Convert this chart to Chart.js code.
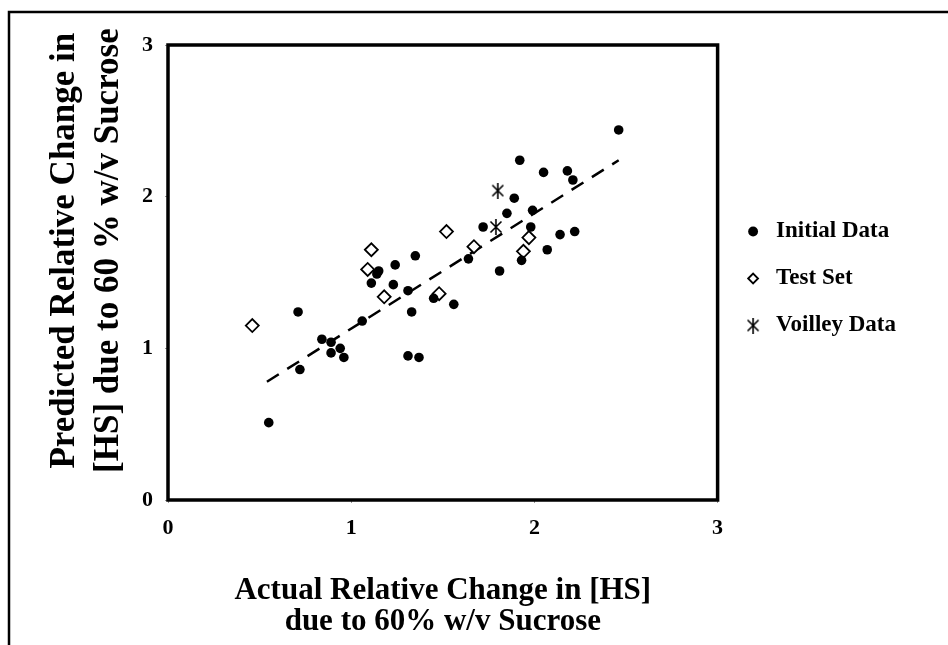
<!DOCTYPE html>
<html>
<head>
<meta charset="utf-8">
<script src="https://cdn.jsdelivr.net/npm/chart.js@4"></script>
<style>
  html, body { margin: 0; padding: 0; background: #fff; }
  #wrap { width: 948px; height: 645px; }
</style>
</head>
<body>
<div id="wrap"><canvas id="hsChart"></canvas></div>
<script>
// values
const initialX = [2.46, 1.92, 2.05, 2.18, 2.21, 1.89, 1.85, 1.99, 1.98, 1.72, 2.14, 2.22, 2.07, 1.93, 1.81, 1.64, 1.35, 1.24, 1.15, 1.14, 1.11, 1.23, 1.31, 1.45, 1.56, 1.33, 0.71, 1.06, 0.84, 0.89, 0.89, 0.94, 0.96, 1.31, 1.37, 0.72, 0.55];
const initialY = [2.44, 2.24, 2.16, 2.17, 2.11, 1.99, 1.89, 1.91, 1.80, 1.80, 1.75, 1.77, 1.65, 1.58, 1.51, 1.59, 1.61, 1.55, 1.51, 1.49, 1.43, 1.42, 1.38, 1.33, 1.29, 1.24, 1.24, 1.18, 1.06, 1.04, 0.97, 1.00, 0.94, 0.95, 0.94, 0.86, 0.51];
const testX = [0.46, 1.11, 1.09, 1.52, 1.18, 1.48, 1.67, 1.94, 1.97];
const testY = [1.15, 1.65, 1.52, 1.77, 1.34, 1.36, 1.67, 1.64, 1.73];
const voilleyX = [1.80, 1.79];
const voilleyY = [2.04, 1.80];
const trendX = [0.54, 2.46];
const trendY = [0.78, 2.24];
const tickValues = [0, 1, 2, 3];

const seriesNames = ['Initial Data', 'Test Set', 'Voilley Data'];
const xTitle = ['Actual Relative Change in [HS]', 'due to 60% w/v Sucrose'];
// leading spaces nudge the rotated title up a little, like the original
const yTitle = ['     Predicted Relative Change in', '     [HS] due to 60 % w/v Sucrose'];

const SERIF = '"Liberation Serif", "Times New Roman", serif';

function toPoints(xs, ys) {
    return xs.map(function (x, i) { return { x: x, y: ys[i] }; });
}

// Excel-like star marker: an X with a vertical stroke
function makeStar(size) {
    const c = document.createElement('canvas');
    c.width = size; c.height = size;
    const g = c.getContext('2d');
    g.strokeStyle = '#000';
    g.lineWidth = 1.6;
    const m = 2.5;
    g.beginPath();
    g.moveTo(m, m); g.lineTo(size - m, size - m);
    g.moveTo(size - m, m); g.lineTo(m, size - m);
    g.moveTo(size / 2, 0); g.lineTo(size / 2, size);
    g.stroke();
    return c;
}
const starMarker = makeStar(16);

// thick box round the plot + the partial page frame
const framePlugin = {
    id: 'frames',
    beforeDraw: function (chart) {
        const ctx = chart.ctx;
        ctx.save();
        ctx.strokeStyle = '#000';
        ctx.lineWidth = 2.5;
        ctx.beginPath();
        ctx.moveTo(9, 645);
        ctx.lineTo(9, 12);
        ctx.lineTo(948, 12);
        ctx.stroke();
        ctx.restore();
    },
    afterDatasetsDraw: function (chart) {
        const a = chart.chartArea;
        const ctx = chart.ctx;
        ctx.save();
        ctx.strokeStyle = '#000';
        ctx.lineWidth = 3.5;
        ctx.strokeRect(a.left, a.top, a.right - a.left, a.bottom - a.top);
        ctx.restore();
    }
};

const ctx = document.getElementById('hsChart').getContext('2d');

new Chart(ctx, {
    type: 'scatter',
    data: {
        datasets: [{
            label: seriesNames[0],
            data: toPoints(initialX, initialY),
            pointStyle: 'circle',
            pointRadius: 4.8,
            backgroundColor: '#000',
            borderColor: '#000',
            borderWidth: 0
        }, {
            label: seriesNames[1],
            data: toPoints(testX, testY),
            pointStyle: 'rectRot',
            pointRadius: 6.5,
            backgroundColor: '#fff',
            borderColor: '#000',
            borderWidth: 1.8
        }, {
            label: seriesNames[2],
            data: toPoints(voilleyX, voilleyY),
            pointStyle: starMarker,
            pointRadius: 8,
            backgroundColor: '#000',
            borderColor: '#000'
        }, {
            label: 'trend',
            type: 'line',
            data: toPoints(trendX, trendY),
            borderColor: '#000',
            borderWidth: 2.5,
            borderDash: [14, 10],
            pointRadius: 0,
            fill: false
        }]
    },
    options: {
        responsive: true,
        maintainAspectRatio: false,
        animation: false,
        layout: {
            padding: { left: 0, top: 45, right: 42, bottom: 0 }
        },
        scales: {
            x: {
                type: 'linear',
                min: 0,
                max: 3,
                afterBuildTicks: function (s) { s.ticks = tickValues.map(function (v) { return { value: v }; }); },
                afterFit: function (s) { s.height = 145; },
                border: { display: false },
                grid: { drawOnChartArea: false, tickLength: 3, color: '#999' },
                ticks: {
                    color: '#000',
                    padding: 12,
                    font: { family: SERIF, size: 22, weight: 'bold' }
                },
                title: {
                    display: true,
                    text: xTitle,
                    color: '#000',
                    padding: { top: 0, bottom: 8 },
                    font: { family: SERIF, size: 31, weight: 'bold', lineHeight: 1.0 }
                }
            },
            y: {
                type: 'linear',
                min: 0,
                max: 3,
                afterBuildTicks: function (s) { s.ticks = tickValues.map(function (v) { return { value: v }; }); },
                afterFit: function (s) { s.width = 168; },
                border: { display: false },
                grid: { drawOnChartArea: false, tickLength: 3, color: '#999' },
                ticks: {
                    color: '#000',
                    padding: 12,
                    font: { family: SERIF, size: 22, weight: 'bold' }
                },
                title: {
                    display: true,
                    text: yTitle,
                    color: '#000',
                    padding: { top: 43, bottom: 0 },
                    font: { family: SERIF, size: 35, weight: 'bold', lineHeight: '44px' }
                }
            }
        },
        plugins: {
            legend: {
                display: true,
                position: 'right',
                align: 'start',
                title: {
                    display: true,
                    text: ' ',
                    font: { size: 10, lineHeight: 1 },
                    padding: { top: 141, bottom: 0 }
                },
                labels: {
                    usePointStyle: true,
                    boxHeight: 7,
                    padding: 24,
                    color: '#000',
                    font: { family: SERIF, size: 23, weight: 'bold' },
                    filter: function (item) { return item.text !== 'trend'; }
                }
            },
            tooltip: { enabled: false }
        }
    },
    plugins: [framePlugin]
});
</script>
</body>
</html>
